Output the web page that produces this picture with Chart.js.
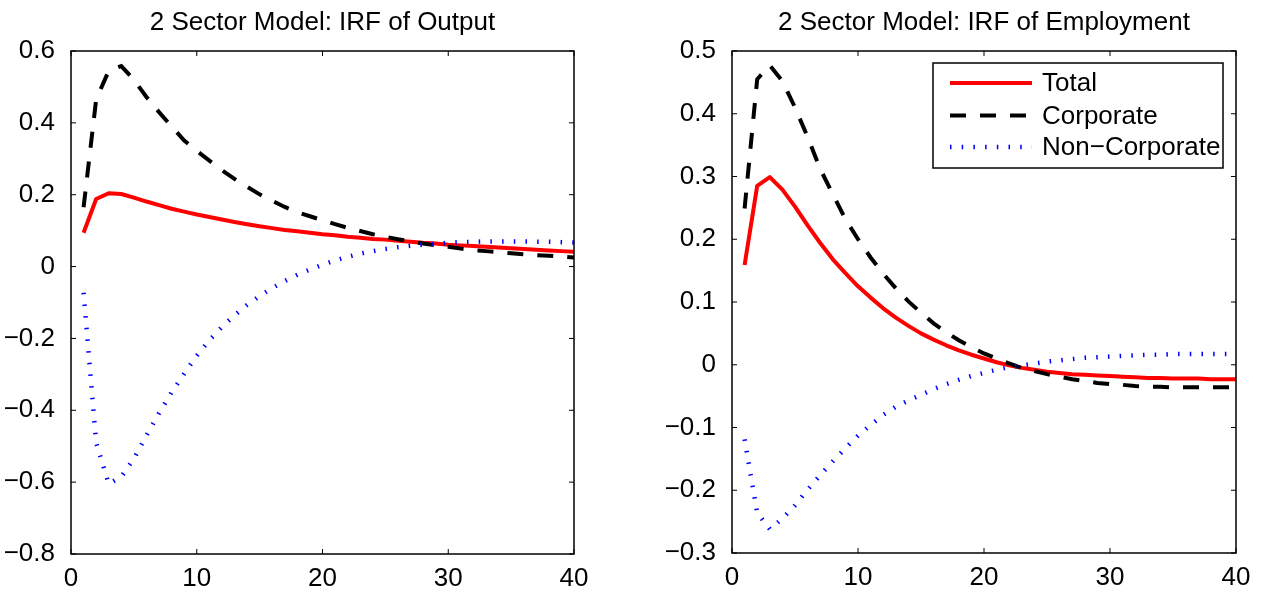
<!DOCTYPE html>
<html>
<head>
<meta charset="utf-8">
<script src="https://cdn.jsdelivr.net/npm/chart.js@4.4.1/dist/chart.umd.min.js"></script>
<style>
  html, body { margin: 0; padding: 0; background: #fff; overflow: hidden; }
  #wrap { position: relative; width: 1262px; height: 595px; }
  canvas { position: absolute; top: 0; }
  #outputChart { left: 0; }
  #employmentChart { left: 631px; }
</style>
</head>
<body>
<div id="wrap">
  <canvas id="outputChart" width="631" height="595"></canvas>
  <canvas id="employmentChart" width="631" height="595"></canvas>
</div>
<script>
// periods after the shock
const periods = [1, 2, 3, 4, 5, 6, 7, 8, 9, 10, 11, 12, 13, 14, 15, 16, 17, 18, 19, 20,
  21, 22, 23, 24, 25, 26, 27, 28, 29, 30, 31, 32, 33, 34, 35, 36, 37, 38, 39, 40];

const seriesNames = ["Total", "Corporate", "Non\u2212Corporate"];

// IRF of output
const outputTotal = [0.094, 0.188, 0.204, 0.202, 0.192, 0.181, 0.171, 0.161, 0.153, 0.145,
  0.138, 0.131, 0.124, 0.118, 0.112, 0.107, 0.102, 0.098, 0.094, 0.090,
  0.087, 0.083, 0.080, 0.077, 0.075, 0.072, 0.069, 0.066, 0.064, 0.061,
  0.059, 0.057, 0.055, 0.053, 0.051, 0.049, 0.047, 0.045, 0.043, 0.041];
const outputCorporate = [0.165, 0.465, 0.545, 0.558, 0.520, 0.472, 0.430, 0.390, 0.351, 0.322,
  0.295, 0.268, 0.244, 0.222, 0.201, 0.183, 0.166, 0.151, 0.140, 0.129,
  0.118, 0.108, 0.099, 0.090, 0.083, 0.076, 0.070, 0.064, 0.059, 0.055,
  0.050, 0.046, 0.043, 0.040, 0.037, 0.034, 0.032, 0.030, 0.028, 0.025];
const outputNonCorporate = [-0.073, -0.490, -0.605, -0.585, -0.535, -0.470, -0.408, -0.350, -0.298, -0.248,
  -0.205, -0.168, -0.136, -0.107, -0.082, -0.060, -0.040, -0.023, -0.008, 0.005,
  0.017, 0.027, 0.036, 0.043, 0.049, 0.054, 0.058, 0.061, 0.064, 0.066,
  0.068, 0.069, 0.070, 0.070, 0.070, 0.070, 0.069, 0.069, 0.068, 0.067];

// IRF of employment
const employmentTotal = [0.159, 0.285, 0.299, 0.279, 0.252, 0.222, 0.194, 0.168, 0.146, 0.125,
  0.107, 0.090, 0.075, 0.062, 0.050, 0.040, 0.031, 0.023, 0.016, 0.010,
  0.004, -0.001, -0.005, -0.008, -0.011, -0.013, -0.015, -0.016, -0.017, -0.018,
  -0.019, -0.020, -0.021, -0.021, -0.022, -0.022, -0.022, -0.023, -0.023, -0.023];
const employmentCorporate = [0.249, 0.455, 0.477, 0.452, 0.410, 0.363, 0.312, 0.272, 0.232, 0.200,
  0.171, 0.145, 0.122, 0.101, 0.083, 0.066, 0.052, 0.039, 0.028, 0.018,
  0.010, 0.002, -0.005, -0.010, -0.015, -0.019, -0.023, -0.026, -0.029, -0.031,
  -0.032, -0.034, -0.035, -0.035, -0.036, -0.036, -0.036, -0.036, -0.036, -0.036];
const employmentNonCorporate = [-0.119, -0.236, -0.262, -0.245, -0.224, -0.199, -0.176, -0.154, -0.133, -0.113,
  -0.096, -0.080, -0.067, -0.057, -0.048, -0.039, -0.031, -0.024, -0.018, -0.013,
  -0.008, -0.004, -0.001, 0.002, 0.005, 0.007, 0.009, 0.011, 0.012, 0.013,
  0.014, 0.015, 0.016, 0.016, 0.017, 0.017, 0.017, 0.017, 0.017, 0.017];

const xTicks = [0, 10, 20, 30, 40];

Chart.defaults.font.family = "'Liberation Sans', Arial, Helvetica, sans-serif";
Chart.defaults.font.size = 26;
Chart.defaults.color = "#000";

// matlab style labels: 0, 0.2, −0.2
function fmtTick(v) {
  if (Math.abs(v) < 1e-9) return "0";
  const s = Math.abs(v).toFixed(1);
  return v < 0 ? "\u2212" + s : s;
}

// closed box with short inward ticks on all four sides
const framePlugin = {
  id: "frame",
  afterDatasetsDraw(chart) {
    const { ctx, chartArea: a, scales } = chart;
    ctx.save();
    ctx.strokeStyle = "#000";
    ctx.lineWidth = 1.5;
    ctx.strokeRect(a.left, a.top, a.right - a.left, a.bottom - a.top);
    ctx.lineWidth = 1;
    ctx.beginPath();
    scales.x.ticks.forEach((t) => {
      const px = scales.x.getPixelForValue(t.value);
      ctx.moveTo(px, a.bottom);
      ctx.lineTo(px, a.bottom - 5);
      ctx.moveTo(px, a.top);
      ctx.lineTo(px, a.top + 5);
    });
    scales.y.ticks.forEach((t) => {
      const py = scales.y.getPixelForValue(t.value);
      ctx.moveTo(a.left, py);
      ctx.lineTo(a.left + 5, py);
      ctx.moveTo(a.right, py);
      ctx.lineTo(a.right - 5, py);
    });
    ctx.stroke();
    ctx.restore();
  },
};

// legend box in the top right corner of the plot
const boxLegend = {
  id: "boxLegend",
  afterDraw(chart) {
    const { ctx, chartArea: a } = chart;
    const w = 290;
    const h = 105;
    const x0 = a.right - 13 - w;
    const y0 = a.top + 12;
    const rows = [20, 52.5, 84];
    ctx.save();
    ctx.fillStyle = "#fff";
    ctx.fillRect(x0, y0, w, h);
    ctx.strokeStyle = "#000";
    ctx.lineWidth = 1.5;
    ctx.strokeRect(x0, y0, w, h);
    chart.data.datasets.forEach((ds, i) => {
      const y = y0 + rows[i];
      ctx.beginPath();
      ctx.strokeStyle = ds.borderColor;
      ctx.lineWidth = ds.borderWidth;
      ctx.lineCap = "butt";
      ctx.setLineDash(ds.borderDash || []);
      ctx.moveTo(x0 + 17, y);
      ctx.lineTo(x0 + 99, y);
      ctx.stroke();
      ctx.setLineDash([]);
      ctx.fillStyle = "#000";
      ctx.font = "26px 'Liberation Sans', Arial, sans-serif";
      ctx.textAlign = "left";
      ctx.textBaseline = "middle";
      ctx.fillText(ds.label, x0 + 109, y + 1);
    });
    ctx.restore();
  },
};

function toPoints(values) {
  return periods.map((p, i) => ({ x: p, y: values[i] }));
}

function makeChart(id, title, total, corporate, nonCorporate, yMin, yMax, yStep, box, withLegend) {
  const ctx = document.getElementById(id).getContext("2d");
  return new Chart(ctx, {
    type: "line",
    data: {
      datasets: [
        {
          label: seriesNames[0],
          data: toPoints(total),
          borderColor: "#ff0000",
          borderWidth: 4,
          borderJoinStyle: "round",
          order: 3,
        },
        {
          label: seriesNames[1],
          data: toPoints(corporate),
          borderColor: "#000000",
          borderWidth: 4,
          borderDash: [16, 14],
          order: 2,
        },
        {
          label: seriesNames[2],
          data: toPoints(nonCorporate),
          borderColor: "#0000ff",
          borderWidth: 4.5,
          borderDash: [1.5, 10.2],
          order: 1,
        },
      ],
    },
    options: {
      responsive: false,
      animation: false,
      devicePixelRatio: 1,
      events: [],
      layout: { padding: { left: box.padLeft, right: box.padRight, top: 0, bottom: 0 } },
      elements: {
        point: { radius: 0 },
        line: { tension: 0, fill: false, borderCapStyle: "butt" },
      },
      plugins: {
        legend: { display: false },
        tooltip: { enabled: false },
        title: {
          display: true,
          text: title,
          fullSize: false,
          font: { size: 26, weight: "normal" },
          padding: { top: 7, bottom: 12.8 },
        },
      },
      scales: {
        x: {
          type: "linear",
          min: 0,
          max: 40,
          afterBuildTicks: (scale) => {
            scale.ticks = xTicks.map((v) => ({ value: v }));
          },
          ticks: { padding: 1, maxRotation: 0, callback: (v) => String(v) },
          grid: { display: false },
          border: { display: false },
          afterFit: (scale) => {
            scale.height = box.xHeight;
          },
        },
        y: {
          min: yMin,
          max: yMax,
          ticks: { stepSize: yStep, padding: 8, callback: (v) => fmtTick(v) },
          grid: { display: false },
          border: { display: false },
          afterFit: (scale) => {
            scale.width = 71;
          },
        },
      },
    },
    plugins: withLegend ? [framePlugin, boxLegend] : [framePlugin],
  });
}

makeChart("outputChart", "2 Sector Model: IRF of Output",
  outputTotal, outputCorporate, outputNonCorporate,
  -0.8, 0.6, 0.2, { padLeft: 0, padRight: 57, xHeight: 41 }, false);

makeChart("employmentChart", "2 Sector Model: IRF of Employment",
  employmentTotal, employmentCorporate, employmentNonCorporate,
  -0.3, 0.5, 0.1, { padLeft: 30, padRight: 26, xHeight: 42 }, true);
</script>
</body>
</html>
